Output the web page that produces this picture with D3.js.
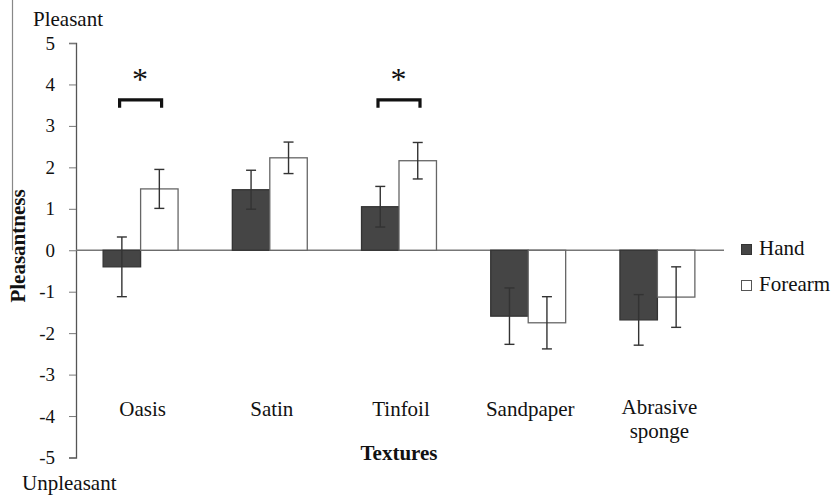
<!DOCTYPE html>
<html>
<head>
<meta charset="utf-8">
<script src="https://cdn.jsdelivr.net/npm/d3@7"></script>
<style>
  body { margin: 0; background: #fff; }
</style>
</head>
<body>
<div id="chart"></div>
<script>
const textures = ["Oasis", "Satin", "Tinfoil", "Sandpaper", "Abrasive sponge"];
const groups = ["Hand", "Forearm"];
const handMeans = [-0.40, 1.46, 1.05, -1.59, -1.68];
const handErrors = [0.72, 0.47, 0.49, 0.68, 0.61];
const forearmMeans = [1.48, 2.23, 2.16, -1.75, -1.13];
const forearmErrors = [0.47, 0.38, 0.44, 0.63, 0.73];
const yTicks = [-5, -4, -3, -2, -1, 0, 1, 2, 3, 4, 5];
// significance brackets: texture and height in data units
const significant = [{texture: "Oasis", level: 3.63}, {texture: "Tinfoil", level: 3.63}];

const groupColors = { Hand: "#454545", Forearm: "#ffffff" };
const serif = "'Liberation Serif', 'Times New Roman', Times, serif";

const width = 832, height = 496;
const margin = { top: 43, right: 110, bottom: 38, left: 76 };

const svg = d3.select("#chart").append("svg")
    .attr("width", width)
    .attr("height", height);

const x = d3.scaleBand()
    .domain(textures)
    .range([margin.left, 722])
    .paddingInner(0.42)
    .paddingOuter(0.21);

const xSub = d3.scaleBand()
    .domain(groups)
    .range([0, x.bandwidth()]);

const y = d3.scaleLinear()
    .domain([-5, 5])
    .range([height - margin.bottom - 0.5, margin.top]);

const rows = [];
textures.forEach((t, i) => {
    rows.push({ texture: t, group: "Hand", mean: handMeans[i], err: handErrors[i] });
    rows.push({ texture: t, group: "Forearm", mean: forearmMeans[i], err: forearmErrors[i] });
});

// stray vertical rule at far left
svg.append("line")
    .attr("x1", 12.5).attr("x2", 12.5)
    .attr("y1", 0).attr("y2", y(0))
    .attr("stroke", "#888")
    .attr("stroke-width", 1.2);

// Y axis
const yAxis = svg.append("g")
    .attr("transform", `translate(${margin.left}, 0)`)
    .call(d3.axisLeft(y).tickValues(yTicks).tickFormat(d => String(d))
        .tickSize(7).tickSizeOuter(7).tickPadding(14));
yAxis.select(".domain").attr("stroke", "#555").attr("stroke-width", 1.3);
yAxis.selectAll(".tick line").attr("stroke", "#777");
yAxis.selectAll(".tick text").style("font-size", "19px");

// zero line
svg.append("line")
    .attr("x1", margin.left).attr("x2", 724)
    .attr("y1", y(0)).attr("y2", y(0))
    .attr("stroke", "#777")
    .attr("stroke-width", 1.3);

// bars
svg.append("g")
    .selectAll("rect")
    .data(rows)
    .join("rect")
    .attr("x", d => x(d.texture) + xSub(d.group))
    .attr("width", xSub.bandwidth())
    .attr("y", d => y(Math.max(0, d.mean)))
    .attr("height", d => Math.abs(y(d.mean) - y(0)))
    .attr("fill", d => groupColors[d.group])
    .attr("stroke", d => d.group === "Hand" ? "#333" : "#666")
    .attr("stroke-width", 1.3);

// error bars
const errG = svg.append("g")
    .attr("stroke", "#333")
    .attr("stroke-width", 1.4);

rows.forEach(d => {
    const cx = x(d.texture) + xSub(d.group) + xSub.bandwidth() / 2;
    const top = y(d.mean + d.err), bottom = y(d.mean - d.err);
    errG.append("line").attr("x1", cx).attr("x2", cx).attr("y1", top).attr("y2", bottom);
    errG.append("line").attr("x1", cx - 5).attr("x2", cx + 5).attr("y1", top).attr("y2", top);
    errG.append("line").attr("x1", cx - 5).attr("x2", cx + 5).attr("y1", bottom).attr("y2", bottom);
});

// significance brackets
significant.forEach(s => {
    const cx = x(s.texture) + x.bandwidth() / 2;
    const x0 = cx - 21, x1 = cx + 21;
    const by = y(s.level);
    svg.append("path")
        .attr("d", `M${x0},${by + 8} V${by} H${x1} V${by + 8}`)
        .attr("fill", "none")
        .attr("stroke", "#111")
        .attr("stroke-width", 3.2);
    svg.append("text")
        .attr("x", cx - 0.5)
        .attr("y", by - 10)
        .attr("text-anchor", "middle")
        .style("font-size", "32px")
        .text("*");
});

// category labels (two-word label wraps onto a second line)
const catLabels = svg.append("g");
textures.forEach(t => {
    const words = t === "Abrasive sponge" ? ["Abrasive", "sponge"] : [t];
    const cx = x(t) + x.bandwidth() / 2 + 2;
    words.forEach((w, i) => {
        catLabels.append("text")
            .attr("x", cx)
            .attr("y", (words.length > 1 ? 414 : 416) + i * 24)
            .attr("text-anchor", "middle")
            .style("font-size", "21px")
            .text(w);
    });
});

// axis titles
svg.append("text")
    .attr("x", x("Tinfoil") + x.bandwidth() / 2)
    .attr("y", 460)
    .attr("text-anchor", "middle")
    .style("font-size", "21px")
    .style("font-weight", "bold")
    .text("Textures");

svg.append("text")
    .attr("transform", `translate(25, 246) rotate(-90)`)
    .attr("text-anchor", "middle")
    .style("font-size", "21px")
    .style("font-weight", "bold")
    .text("Pleasantness");

svg.append("text")
    .attr("x", 33)
    .attr("y", 26)
    .style("font-size", "21px")
    .text("Pleasant");

svg.append("text")
    .attr("x", 22)
    .attr("y", 490)
    .style("font-size", "21px")
    .text("Unpleasant");

// legend
const legend = svg.append("g")
    .attr("transform", "translate(741, 0)");
groups.forEach((g, i) => {
    const base = 255 + i * 36;
    legend.append("rect")
        .attr("x", 0.5).attr("y", base - 10.5)
        .attr("width", 10).attr("height", 10)
        .attr("fill", groupColors[g])
        .attr("stroke", g === "Hand" ? "#333" : "#555")
        .attr("stroke-width", 1);
    legend.append("text")
        .attr("x", 18)
        .attr("y", base)
        .style("font-size", "21px")
        .text(g);
});

svg.selectAll("text")
    .style("font-family", serif)
    .attr("fill", "#111");
</script>
</body>
</html>
